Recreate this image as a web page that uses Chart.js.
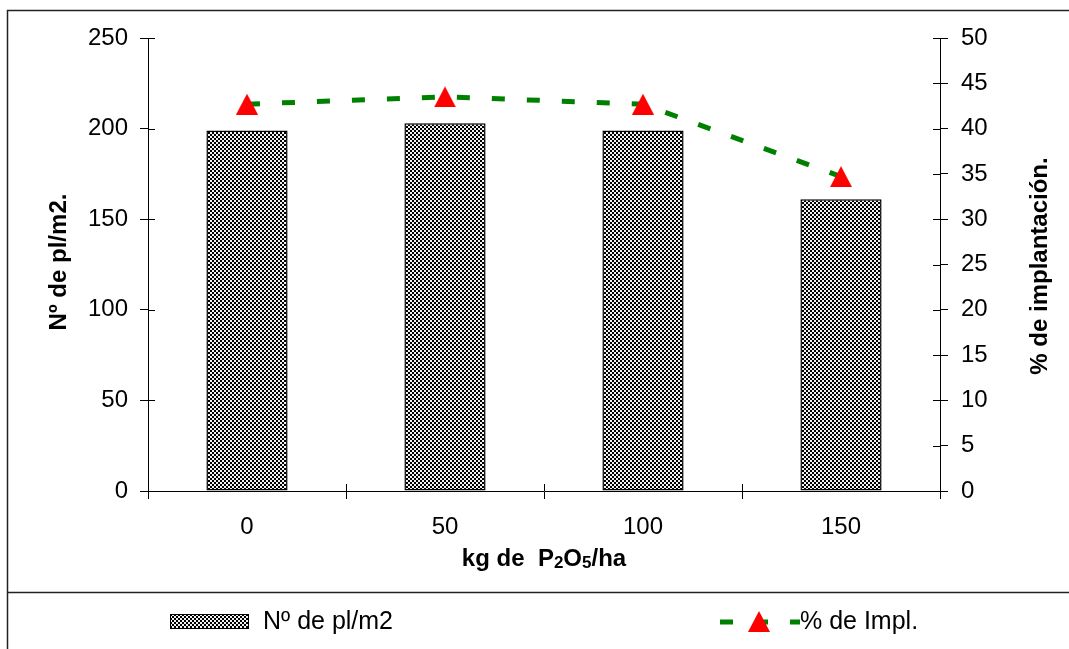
<!DOCTYPE html>
<html lang="es">
<head>
<meta charset="UTF-8">
<title>Nº de pl/m2 y % de implantación</title>
<script src="https://cdn.jsdelivr.net/npm/chart.js"></script>
<style>
  html, body { margin: 0; padding: 0; background: #fff; }
</style>
</head>
<body>
<canvas id="myChart" width="1069" height="649"></canvas>
<script>
// Datos: dosis de fósforo, plantas por m2 y % de implantación
const categories = ['0', '50', '100', '150'];
const plantas = [199, 203, 199, 161];
const implantacion = [42.7, 43.5, 42.7, 34.7];

const FONT = '"Liberation Sans", Arial, sans-serif';
Chart.defaults.font.family = FONT;
Chart.defaults.color = '#000';

const canvas = document.getElementById('myChart');
const ctx = canvas.getContext('2d');

// trama de cuadros para las barras
function makeChecker() {
    const c = document.createElement('canvas');
    c.width = 4; c.height = 4;
    const g = c.getContext('2d');
    g.fillStyle = '#f2f2f2';
    g.fillRect(0, 0, 4, 4);
    g.fillStyle = '#000';
    g.fillRect(0, 0, 2, 2);
    g.fillRect(2, 2, 2, 2);
    return ctx.createPattern(c, 'repeat');
}

// marcador triangular rojo
function makeTriangle() {
    const c = document.createElement('canvas');
    c.width = 22; c.height = 21;
    const g = c.getContext('2d');
    g.fillStyle = '#ff0000';
    g.beginPath();
    g.moveTo(11, 0);
    g.lineTo(22, 21);
    g.lineTo(0, 21);
    g.closePath();
    g.fill();
    return c;
}

const checker = makeChecker();
const triangle = makeTriangle();
const GREEN = '#008000';
const DASH = [13, 22];

// marco, marcas interiores de los ejes, títulos y leyenda
const decor = {
    id: 'decor',
    afterDraw(chart) {
        const { ctx, scales: { x, y, y1 }, chartArea } = chart;
        ctx.save();

        // marco exterior y separador de la leyenda
        ctx.strokeStyle = '#222';
        ctx.lineWidth = 1.5;
        ctx.beginPath();
        ctx.moveTo(1069, 10.5); ctx.lineTo(7.5, 10.5); ctx.lineTo(7.5, 649);
        ctx.moveTo(7.5, 592.5); ctx.lineTo(1069, 592.5);
        ctx.stroke();

        // mitad interior de las marcas
        ctx.strokeStyle = '#000';
        ctx.lineWidth = 1;
        ctx.beginPath();
        y.ticks.forEach((t, i) => {
            const py = Math.round(y.getPixelForTick(i)) + 0.5;
            ctx.moveTo(chartArea.left, py); ctx.lineTo(chartArea.left + 7, py);
        });
        y1.ticks.forEach((t, i) => {
            const py = Math.round(y1.getPixelForTick(i)) + 0.5;
            ctx.moveTo(chartArea.right - 7, py); ctx.lineTo(chartArea.right, py);
        });
        const n = categories.length;
        for (let i = 0; i <= n; i++) {
            const px = Math.round(x.left + i * x.width / n) + 0.5;
            ctx.moveTo(px, chartArea.bottom - 7); ctx.lineTo(px, chartArea.bottom);
        }
        ctx.stroke();

        // títulos de los ejes verticales
        ctx.fillStyle = '#000';
        ctx.font = 'bold 24px ' + FONT;
        ctx.textAlign = 'center';
        ctx.textBaseline = 'middle';
        ctx.save();
        ctx.translate(59, 262);
        ctx.rotate(-Math.PI / 2);
        ctx.fillText('Nº de pl/m2.', 0, 0);
        ctx.restore();
        ctx.save();
        ctx.translate(1040, 266);
        ctx.rotate(-Math.PI / 2);
        ctx.fillText('% de implantación.', 0, 0);
        ctx.restore();

        // título del eje X con subíndices
        const parts = [['kg de  P', 24], ['2', 17], ['O', 24], ['5', 17], ['/ha', 24]];
        ctx.textAlign = 'left';
        ctx.textBaseline = 'alphabetic';
        let total = 0;
        parts.forEach(p => { ctx.font = 'bold ' + p[1] + 'px ' + FONT; total += ctx.measureText(p[0]).width; });
        let tx = (chartArea.left + chartArea.right) / 2 - total / 2;
        parts.forEach(p => {
            ctx.font = 'bold ' + p[1] + 'px ' + FONT;
            ctx.fillText(p[0], tx, p[1] < 24 ? 568 : 566);
            tx += ctx.measureText(p[0]).width;
        });

        // leyenda
        ctx.fillStyle = checker;
        ctx.fillRect(170, 614, 79, 15);
        ctx.strokeStyle = '#000';
        ctx.lineWidth = 1;
        ctx.strokeRect(170.5, 614.5, 78, 14);

        ctx.fillStyle = '#000';
        ctx.font = '25px ' + FONT;
        ctx.textBaseline = 'middle';
        ctx.fillText('Nº de pl/m2', 263, 622);

        ctx.strokeStyle = GREEN;
        ctx.lineWidth = 5;
        ctx.setLineDash(DASH);
        ctx.beginPath();
        ctx.moveTo(720, 622); ctx.lineTo(800, 622);
        ctx.stroke();
        ctx.setLineDash([]);
        ctx.drawImage(triangle, 759 - 11, 621 - 10);
        ctx.fillText('% de Impl.', 800, 622);

        ctx.restore();
    }
};

new Chart(ctx, {
    type: 'bar',
    data: {
        labels: categories,
        datasets: [{
            type: 'line',
            label: '% de Impl.',
            data: implantacion,
            yAxisID: 'y1',
            borderColor: GREEN,
            borderWidth: 5,
            borderDash: DASH,
            fill: false,
            tension: 0,
            pointStyle: triangle,
            pointRadius: 11,
            order: 0
        }, {
            label: 'Nº de pl/m2',
            data: plantas,
            yAxisID: 'y',
            backgroundColor: checker,
            borderColor: '#000',
            borderWidth: 1.5,
            borderSkipped: false,
            barPercentage: 0.41,
            categoryPercentage: 1,
            order: 1
        }]
    },
    options: {
        responsive: false,
        animation: false,
        layout: { padding: { left: 0, right: 0, top: 38, bottom: 89 } },
        plugins: {
            legend: { display: false },
            tooltip: { enabled: false }
        },
        scales: {
            x: {
                offset: true,
                afterFit: s => { s.height = 69; },
                grid: { offset: true, drawOnChartArea: false, tickLength: 8, color: '#000' },
                border: { color: '#000' },
                ticks: { font: { size: 24 }, padding: 14, color: '#000' }
            },
            y: {
                position: 'left',
                min: 0,
                max: 250,
                afterFit: s => { s.width = 148; },
                grid: { drawOnChartArea: false, tickLength: 8, color: '#000' },
                border: { color: '#000' },
                ticks: { stepSize: 50, font: { size: 24 }, padding: 12, color: '#000' }
            },
            y1: {
                position: 'right',
                min: 0,
                max: 50,
                afterFit: s => { s.width = 129; },
                grid: { drawOnChartArea: false, tickLength: 8, color: '#000' },
                border: { color: '#000' },
                ticks: { stepSize: 5, font: { size: 24 }, padding: 13, color: '#000' }
            }
        }
    },
    plugins: [decor]
});
</script>
</body>
</html>
